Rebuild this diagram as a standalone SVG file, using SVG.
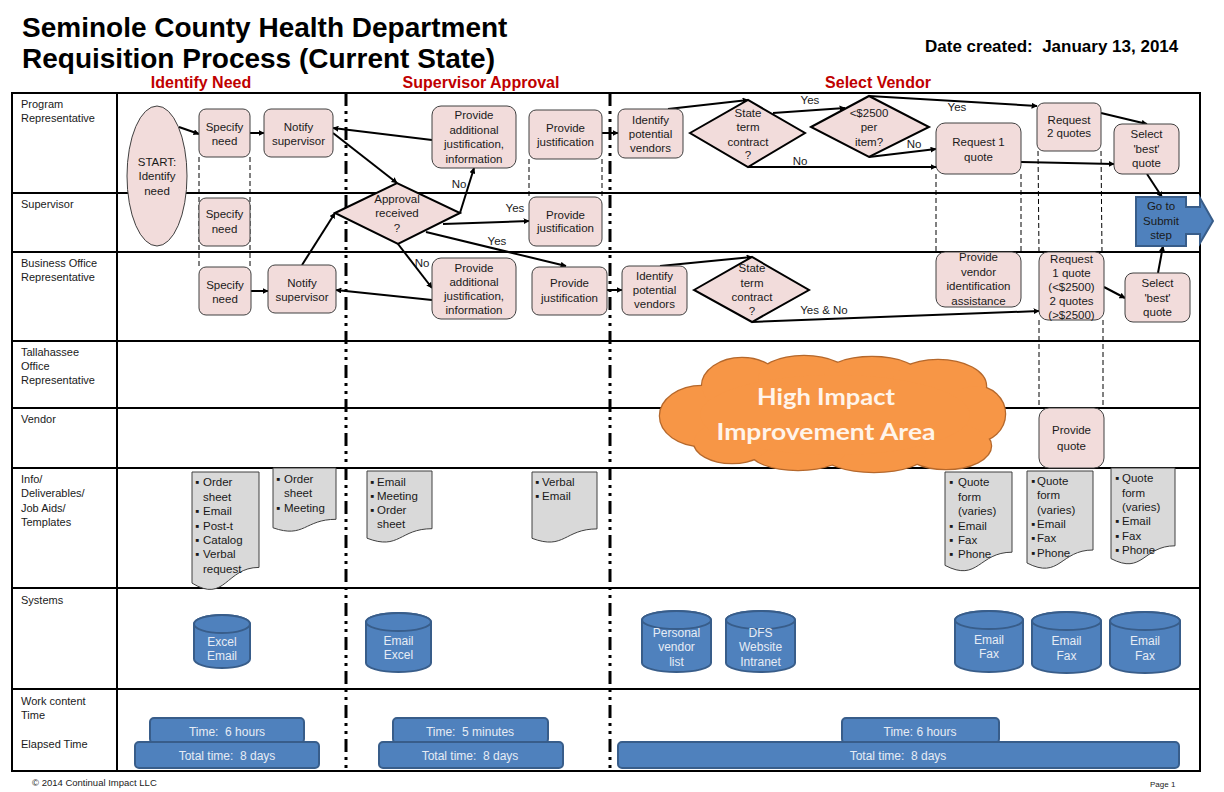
<svg xmlns="http://www.w3.org/2000/svg" width="1224" height="792" viewBox="0 0 1224 792">
<defs>
<marker id="ah" viewBox="0 0 10 10" refX="9" refY="5" markerWidth="6" markerHeight="6" markerUnits="userSpaceOnUse" orient="auto"><path d="M0,0 L10,5 L0,10 z" fill="#000"/></marker>
<style>
.f{font-family:"Liberation Sans",Arial,sans-serif}
.lane{stroke:#000;stroke-width:2;fill:none}
.phase{stroke:#000;stroke-width:3;stroke-dasharray:13 5 3 5 3 5;fill:none}
.dash{stroke:#000;stroke-width:1;stroke-dasharray:5 3;fill:none}
.box{fill:#F2DCDB;stroke:#404040;stroke-width:1}
.dia{fill:#F2DCDB;stroke:#000;stroke-width:2}
.doc{fill:#D9D9D9;stroke:#404040;stroke-width:1}
.cyl{fill:#4F81BD;stroke:#385D8A;stroke-width:2}
.con{stroke:#000;stroke-width:2;fill:none;marker-end:url(#ah)}
.t{font-family:"Liberation Sans",Arial,sans-serif;font-size:11.5px;fill:#1a1a1a;text-anchor:middle}
.d{font-family:"Liberation Sans",Arial,sans-serif;font-size:11.5px;fill:#1a1a1a}
.lbl{font-family:"Liberation Sans",Arial,sans-serif;font-size:11px;fill:#1a1a1a}
.w{font-family:"Liberation Sans",Arial,sans-serif;font-size:12px;fill:#E6ECF5;text-anchor:middle}
.ph{font-family:"Liberation Sans",Arial,sans-serif;font-size:16px;font-weight:bold;fill:#C00000;text-anchor:middle}
.cl{fill:#F79646;stroke:#B5682C;stroke-width:2.5}
.cf{fill:#F79646;stroke:none}
</style>
</defs>
<rect width="1224" height="792" fill="#fff"/>

<g id="title">
<text class="f" x="22" y="37" font-size="28" font-weight="bold" fill="#000">Seminole County Health Department</text>
<text class="f" x="22" y="68" font-size="28" font-weight="bold" fill="#000">Requisition Process (Current State)</text>
<text class="f" x="925" y="52" font-size="17" font-weight="bold" fill="#000" xml:space="preserve">Date created:  January 13, 2014</text>
<text class="ph" x="201" y="88">Identify Need</text>
<text class="ph" x="481" y="88">Supervisor Approval</text>
<text class="ph" x="878" y="88">Select Vendor</text>
</g>

<g id="lanes">
<rect class="lane" x="12" y="93" width="1188" height="678" stroke-width="2.5"/>
<line class="lane" x1="117" y1="93" x2="117" y2="771"/>
<line class="lane" x1="12" y1="193" x2="1200" y2="193"/>
<line class="lane" x1="12" y1="252" x2="1200" y2="252"/>
<line class="lane" x1="12" y1="341" x2="1200" y2="341"/>
<line class="lane" x1="12" y1="408" x2="1200" y2="408"/>
<line class="lane" x1="12" y1="468" x2="1200" y2="468"/>
<line class="lane" x1="12" y1="588" x2="1200" y2="588"/>
<line class="lane" x1="12" y1="689" x2="1200" y2="689"/>
<text class="lbl" x="21" y="108">Program</text>
<text class="lbl" x="21" y="122">Representative</text>
<text class="lbl" x="21" y="208">Supervisor</text>
<text class="lbl" x="21" y="267">Business Office</text>
<text class="lbl" x="21" y="281">Representative</text>
<text class="lbl" x="21" y="356">Tallahassee</text>
<text class="lbl" x="21" y="370">Office</text>
<text class="lbl" x="21" y="384">Representative</text>
<text class="lbl" x="21" y="423">Vendor</text>
<text class="lbl" x="21" y="483">Info/</text>
<text class="lbl" x="21" y="497">Deliverables/</text>
<text class="lbl" x="21" y="512">Job Aids/</text>
<text class="lbl" x="21" y="526">Templates</text>
<text class="lbl" x="21" y="604">Systems</text>
<text class="lbl" x="21" y="705">Work content</text>
<text class="lbl" x="21" y="719">Time</text>
<text class="lbl" x="21" y="748">Elapsed Time</text>
<text class="f" x="32" y="786" font-size="9.5" fill="#1a1a1a">© 2014 Continual Impact LLC</text>
<text class="f" x="1150" y="787" font-size="8" fill="#1a1a1a">Page 1</text>
</g>

<g id="phase-separators">
<line class="phase" x1="346" y1="93" x2="346" y2="771"/>
<line class="phase" x1="610" y1="93" x2="610" y2="771"/>
</g>

<g id="dashed-links">
<line class="dash" x1="199" y1="157" x2="199" y2="267"/>
<line class="dash" x1="250" y1="157" x2="250" y2="267"/>
<line class="dash" x1="529" y1="159" x2="529" y2="197"/>
<line class="dash" x1="602" y1="159" x2="602" y2="197"/>
<line class="dash" x1="936" y1="174" x2="936" y2="252"/>
<line class="dash" x1="1021" y1="174" x2="1021" y2="252"/>
<line class="dash" x1="1038" y1="151" x2="1039" y2="252"/>
<line class="dash" x1="1101" y1="151" x2="1102" y2="252"/>
<line class="dash" x1="1039" y1="320" x2="1039" y2="408"/>
<line class="dash" x1="1103" y1="320" x2="1103" y2="408"/>
</g>

<g id="connectors">
<line class="con" x1="179" y1="127" x2="199" y2="134"/>
<line class="con" x1="250" y1="133" x2="264" y2="133"/>
<line class="con" x1="333" y1="133" x2="397" y2="183"/>
<line class="con" x1="432" y1="140" x2="333" y2="128"/>
<line class="con" x1="460" y1="213" x2="474" y2="168"/>
<line class="con" x1="443" y1="224" x2="529" y2="221"/>
<line class="con" x1="426" y1="232" x2="566" y2="266"/>
<line class="con" x1="398" y1="244" x2="432" y2="288"/>
<line class="con" x1="302" y1="265" x2="335" y2="213"/>
<line class="con" x1="251" y1="291" x2="268" y2="291"/>
<line class="con" x1="432" y1="300" x2="336" y2="290"/>
<line class="con" x1="602" y1="133" x2="618" y2="133"/>
<line class="con" x1="607" y1="290" x2="622" y2="290"/>
<line class="con" x1="668" y1="109" x2="748" y2="100"/>
<line class="con" x1="660" y1="266" x2="752" y2="257"/>
<line class="con" x1="773" y1="113" x2="845" y2="108"/>
<line class="con" x1="748" y1="167" x2="936" y2="167"/>
<line class="con" x1="869" y1="157" x2="936" y2="149"/>
<line class="con" x1="869" y1="96" x2="1037" y2="106"/>
<line class="con" x1="1101" y1="113" x2="1147" y2="124"/>
<line class="con" x1="1021" y1="162" x2="1114" y2="164"/>
<line class="con" x1="1147" y1="174" x2="1162" y2="197"/>
<line class="con" x1="1158" y1="273" x2="1163" y2="246"/>
<line class="con" x1="1104" y1="287" x2="1125" y2="298"/>
<line class="con" x1="752" y1="322" x2="1039" y2="311"/>
<text class="t" x="459" y="188">No</text>
<text class="t" x="515" y="212">Yes</text>
<text class="t" x="497" y="245">Yes</text>
<text class="t" x="422" y="267">No</text>
<text class="t" x="810" y="104">Yes</text>
<text class="t" x="800" y="165">No</text>
<text class="t" x="914" y="148">No</text>
<text class="t" x="957" y="111">Yes</text>
<text class="t" x="824" y="314">Yes &amp; No</text>
</g>

<g id="start">
<ellipse class="box" cx="157" cy="176" rx="30" ry="70"/>
<text class="t" x="157" y="166">START:</text>
<text class="t" x="157" y="180">Identify</text>
<text class="t" x="157" y="195">need</text>
</g>
<g id="specify-need-p"><rect class="box" x="199" y="109" width="51" height="48" rx="7"/><text class="t" x="224.5" y="131">Specify</text><text class="t" x="224.5" y="145">need</text></g>
<g id="notify-supervisor-p"><rect class="box" x="264" y="109" width="69" height="48" rx="7"/><text class="t" x="298.5" y="131">Notify</text><text class="t" x="298.5" y="145">supervisor</text></g>
<g id="specify-need-s"><rect class="box" x="199" y="198" width="51" height="48" rx="7"/><text class="t" x="224.5" y="218">Specify</text><text class="t" x="224.5" y="233">need</text></g>
<g id="specify-need-b"><rect class="box" x="199" y="267" width="52" height="48" rx="7"/><text class="t" x="225" y="289">Specify</text><text class="t" x="225" y="303">need</text></g>
<g id="notify-supervisor-b"><rect class="box" x="268" y="265" width="68" height="48" rx="7"/><text class="t" x="302" y="287">Notify</text><text class="t" x="302" y="301">supervisor</text></g>

<g id="provide-additional-p"><rect class="box" x="432" y="106" width="84" height="62" rx="9"/><text class="t" x="474" y="119">Provide</text><text class="t" x="474" y="134">additional</text><text class="t" x="474" y="148">justification,</text><text class="t" x="474" y="163">information</text></g>
<g id="provide-justification-p"><rect class="box" x="529" y="110" width="73" height="49" rx="7"/><text class="t" x="565.5" y="132">Provide</text><text class="t" x="565.5" y="146">justification</text></g>
<g id="approval-received"><polygon class="dia" points="335,213 397,183 460,213 398,244"/><text class="t" x="397" y="203">Approval</text><text class="t" x="397" y="217">received</text><text class="t" x="397" y="232">?</text></g>
<g id="provide-justification-s"><rect class="box" x="529" y="197" width="73" height="49" rx="7"/><text class="t" x="565.5" y="219">Provide</text><text class="t" x="565.5" y="232">justification</text></g>
<g id="provide-additional-b"><rect class="box" x="432" y="258" width="84" height="61" rx="9"/><text class="t" x="474" y="272">Provide</text><text class="t" x="474" y="286">additional</text><text class="t" x="474" y="300">justification,</text><text class="t" x="474" y="314">information</text></g>
<g id="provide-justification-b"><rect class="box" x="532" y="267" width="75" height="48" rx="7"/><text class="t" x="569.5" y="287">Provide</text><text class="t" x="569.5" y="302">justification</text></g>

<g id="identify-vendors-p"><rect class="box" x="618" y="109" width="65" height="49" rx="7"/><text class="t" x="650.5" y="124">Identify</text><text class="t" x="650.5" y="138">potential</text><text class="t" x="650.5" y="152">vendors</text></g>
<g id="state-term-p"><polygon class="dia" points="690,133 748,100 805,133 748,167"/><text class="t" x="748" y="117">State</text><text class="t" x="748" y="131">term</text><text class="t" x="748" y="146">contract</text><text class="t" x="748" y="159">?</text></g>
<g id="under-2500"><polygon class="dia" points="811,127 869,96 929,127 869,157"/><text class="t" x="869" y="117">&lt;$2500</text><text class="t" x="869" y="131">per</text><text class="t" x="869" y="146">item?</text></g>
<g id="request-1-quote-p"><rect class="box" x="936" y="123" width="85" height="51" rx="9"/><text class="t" x="978.5" y="146">Request 1</text><text class="t" x="978.5" y="161">quote</text></g>
<g id="request-2-quotes"><rect class="box" x="1037" y="103" width="64" height="48" rx="7"/><text class="t" x="1069" y="124">Request</text><text class="t" x="1069" y="137">2 quotes</text></g>
<g id="select-best-p"><rect class="box" x="1114" y="124" width="65" height="50" rx="8"/><text class="t" x="1146.5" y="138">Select</text><text class="t" x="1146.5" y="153">'best'</text><text class="t" x="1146.5" y="167">quote</text></g>
<g id="go-to-submit"><polygon points="1136,197 1186,197 1186,207 1200,207 1200,198 1213,221 1200,243 1200,234 1186,234 1186,246 1136,246" fill="#4F81BD" stroke="#385D8A" stroke-width="2"/><text class="t" x="1161" y="210" font-size="10">Go to</text><text class="t" x="1161" y="225" font-size="10">Submit</text><text class="t" x="1161" y="239" font-size="10">step</text></g>
<g id="identify-vendors-b"><rect class="box" x="622" y="266" width="65" height="49" rx="7"/><text class="t" x="654.5" y="280">Identify</text><text class="t" x="654.5" y="294">potential</text><text class="t" x="654.5" y="308">vendors</text></g>
<g id="state-term-b"><polygon class="dia" points="694,290 752,257 809,290 752,322"/><text class="t" x="752" y="272">State</text><text class="t" x="752" y="287">term</text><text class="t" x="752" y="301">contract</text><text class="t" x="752" y="315">?</text></g>
<g id="vendor-id-assistance"><rect class="box" x="936" y="252" width="85" height="55" rx="9"/><text class="t" x="978.5" y="261">Provide</text><text class="t" x="978.5" y="276">vendor</text><text class="t" x="978.5" y="290">identification</text><text class="t" x="978.5" y="305">assistance</text></g>
<g id="request-quotes-b"><rect class="box" x="1039" y="252" width="65" height="68" rx="9"/><text class="t" x="1071.5" y="263">Request</text><text class="t" x="1071.5" y="277">1 quote</text><text class="t" x="1071.5" y="291">(&lt;$2500)</text><text class="t" x="1071.5" y="305">2 quotes</text><text class="t" x="1071.5" y="319">(&gt;$2500)</text></g>
<g id="select-best-b"><rect class="box" x="1125" y="273" width="65" height="49" rx="8"/><text class="t" x="1157.5" y="287">Select</text><text class="t" x="1157.5" y="302">'best'</text><text class="t" x="1157.5" y="316">quote</text></g>

<g id="high-impact-cloud">
<ellipse class="cl" cx="702" cy="416" rx="42" ry="30"/>
<ellipse class="cl" cx="742" cy="386" rx="40" ry="28"/>
<ellipse class="cl" cx="804" cy="378" rx="46" ry="22"/>
<ellipse class="cl" cx="872" cy="377" rx="48" ry="20"/>
<ellipse class="cl" cx="938" cy="386" rx="48" ry="26"/>
<ellipse class="cl" cx="975" cy="414" rx="30" ry="28"/>
<ellipse class="cl" cx="946" cy="446" rx="45" ry="23"/>
<ellipse class="cl" cx="874" cy="453" rx="52" ry="19"/>
<ellipse class="cl" cx="798" cy="451" rx="48" ry="19"/>
<ellipse class="cl" cx="732" cy="442" rx="38" ry="21"/>
<ellipse class="cf" cx="702" cy="416" rx="42" ry="30"/>
<ellipse class="cf" cx="742" cy="386" rx="40" ry="28"/>
<ellipse class="cf" cx="804" cy="378" rx="46" ry="22"/>
<ellipse class="cf" cx="872" cy="377" rx="48" ry="20"/>
<ellipse class="cf" cx="938" cy="386" rx="48" ry="26"/>
<ellipse class="cf" cx="975" cy="414" rx="30" ry="28"/>
<ellipse class="cf" cx="946" cy="446" rx="45" ry="23"/>
<ellipse class="cf" cx="874" cy="453" rx="52" ry="19"/>
<ellipse class="cf" cx="798" cy="451" rx="48" ry="19"/>
<ellipse class="cf" cx="732" cy="442" rx="38" ry="21"/>
<ellipse class="cf" cx="835" cy="415" rx="135" ry="40"/>
<text x="826" y="405" font-family="Lato,'Open Sans',sans-serif" font-size="23" font-weight="bold" fill="#FFF4EA" text-anchor="middle" textLength="138" lengthAdjust="spacingAndGlyphs">High Impact</text>
<text x="826" y="440" font-family="Lato,'Open Sans',sans-serif" font-size="23" font-weight="bold" fill="#FFF4EA" text-anchor="middle" textLength="219" lengthAdjust="spacingAndGlyphs">Improvement Area</text>
</g>

<g id="provide-quote"><rect class="box" x="1039" y="408" width="65" height="60" rx="10"/><text class="t" x="1071.5" y="434">Provide</text><text class="t" x="1071.5" y="450">quote</text></g>

<g id="doc-identify-1">
<path class="doc" d="M192,472 h67 v95.4 C225.5,567.4 225.5,603.7 192,583.1 Z"/>
<text class="d"><tspan x="195" y="486">▪</tspan><tspan x="203" y="486">Order</tspan><tspan x="203" y="501">sheet</tspan><tspan x="195" y="515">▪</tspan><tspan x="203" y="515">Email</tspan><tspan x="195" y="530">▪</tspan><tspan x="203" y="530">Post-t</tspan><tspan x="195" y="544">▪</tspan><tspan x="203" y="544">Catalog</tspan><tspan x="195" y="558">▪</tspan><tspan x="203" y="558">Verbal</tspan><tspan x="203" y="573">request</tspan></text>
</g>
<g id="doc-identify-2">
<path class="doc" d="M273,468 h63 v51.3 C304.5,519.3 304.5,538.8 273,527.8 Z"/>
<text class="d"><tspan x="276" y="483">▪</tspan><tspan x="284" y="483">Order</tspan><tspan x="284" y="497">sheet</tspan><tspan x="276" y="512">▪</tspan><tspan x="284" y="512">Meeting</tspan></text>
</g>
<g id="doc-approval-1">
<path class="doc" d="M367,471 h65 v57.7 C399.5,528.7 399.5,550.7 367,538.2 Z"/>
<text class="d"><tspan x="370" y="486">▪</tspan><tspan x="377" y="486">Email</tspan><tspan x="370" y="500">▪</tspan><tspan x="377" y="500">Meeting</tspan><tspan x="370" y="514">▪</tspan><tspan x="377" y="514">Order</tspan><tspan x="377" y="528">sheet</tspan></text>
</g>
<g id="doc-approval-2">
<path class="doc" d="M532,472 h65 v56.9 C564.5,528.9 564.5,550.6 532,538.3 Z"/>
<text class="d"><tspan x="535" y="486">▪</tspan><tspan x="542" y="486">Verbal</tspan><tspan x="535" y="500">▪</tspan><tspan x="542" y="500">Email</tspan></text>
</g>
<g id="doc-vendor-1">
<path class="doc" d="M945,472 h67 v80.2 C978.5,552.2 978.5,582.7 945,565.4 Z"/>
<text class="d"><tspan x="949" y="486">▪</tspan><tspan x="958" y="486">Quote</tspan><tspan x="958" y="501">form</tspan><tspan x="958" y="515">(varies)</tspan><tspan x="949" y="530">▪</tspan><tspan x="958" y="530">Email</tspan><tspan x="949" y="544">▪</tspan><tspan x="958" y="544">Fax</tspan><tspan x="949" y="558">▪</tspan><tspan x="958" y="558">Phone</tspan></text>
</g>
<g id="doc-vendor-2">
<path class="doc" d="M1027,471 h66 v79 C1060,550 1060,580 1027,563 Z"/>
<text class="d"><tspan x="1031" y="485">▪</tspan><tspan x="1037" y="485">Quote</tspan><tspan x="1037" y="499">form</tspan><tspan x="1037" y="514">(varies)</tspan><tspan x="1031" y="528">▪</tspan><tspan x="1037" y="528">Email</tspan><tspan x="1031" y="542">▪</tspan><tspan x="1037" y="542">Fax</tspan><tspan x="1031" y="557">▪</tspan><tspan x="1037" y="557">Phone</tspan></text>
</g>
<g id="doc-vendor-3">
<path class="doc" d="M1111,468 h64 v77.8 C1143,545.8 1143,575.4 1111,558.6 Z"/>
<text class="d"><tspan x="1115" y="482">▪</tspan><tspan x="1122" y="482">Quote</tspan><tspan x="1122" y="497">form</tspan><tspan x="1122" y="511">(varies)</tspan><tspan x="1115" y="525">▪</tspan><tspan x="1122" y="525">Email</tspan><tspan x="1115" y="540">▪</tspan><tspan x="1122" y="540">Fax</tspan><tspan x="1115" y="554">▪</tspan><tspan x="1122" y="554">Phone</tspan></text>
</g>

<g id="sys-excel-email"><path class="cyl" d="M194,624 v35 a28,9 0 0 0 56,0 v-35 a28,9 0 0 0 -56,0 Z"/><ellipse class="cyl" cx="222" cy="624" rx="28" ry="9"/><text class="w" x="222" y="646">Excel</text><text class="w" x="222" y="660">Email</text></g>
<g id="sys-email-excel"><path class="cyl" d="M366,622 v41 a32.5,9 0 0 0 65,0 v-41 a32.5,9 0 0 0 -65,0 Z"/><ellipse class="cyl" cx="398.5" cy="622" rx="32.5" ry="9"/><text class="w" x="398.5" y="645">Email</text><text class="w" x="398.5" y="659">Excel</text></g>
<g id="sys-personal-list"><path class="cyl" d="M642,620 v43 a34.5,9 0 0 0 69,0 v-43 a34.5,9 0 0 0 -69,0 Z"/><ellipse class="cyl" cx="676.5" cy="620" rx="34.5" ry="9"/><text class="w" x="676.5" y="637">Personal</text><text class="w" x="676.5" y="651">vendor</text><text class="w" x="676.5" y="666">list</text></g>
<g id="sys-dfs"><path class="cyl" d="M726,620 v43 a34.5,9 0 0 0 69,0 v-43 a34.5,9 0 0 0 -69,0 Z"/><ellipse class="cyl" cx="760.5" cy="620" rx="34.5" ry="9"/><text class="w" x="760.5" y="637">DFS</text><text class="w" x="760.5" y="651">Website</text><text class="w" x="760.5" y="666">Intranet</text></g>
<g id="sys-email-fax-1"><path class="cyl" d="M955,620 v43 a34,9 0 0 0 68,0 v-43 a34,9 0 0 0 -68,0 Z"/><ellipse class="cyl" cx="989" cy="620" rx="34" ry="9"/><text class="w" x="989" y="644">Email</text><text class="w" x="989" y="658">Fax</text></g>
<g id="sys-email-fax-2"><path class="cyl" d="M1032,621 v43 a34.5,9 0 0 0 69,0 v-43 a34.5,9 0 0 0 -69,0 Z"/><ellipse class="cyl" cx="1066.5" cy="621" rx="34.5" ry="9"/><text class="w" x="1066.5" y="645">Email</text><text class="w" x="1066.5" y="660">Fax</text></g>
<g id="sys-email-fax-3"><path class="cyl" d="M1110,621 v43 a35,9 0 0 0 70,0 v-43 a35,9 0 0 0 -70,0 Z"/><ellipse class="cyl" cx="1145" cy="621" rx="35" ry="9"/><text class="w" x="1145" y="645">Email</text><text class="w" x="1145" y="660">Fax</text></g>

<g id="time-identify">
<rect class="cyl" x="150" y="718" width="154" height="25" rx="4"/>
<rect class="cyl" x="135" y="742" width="184" height="26" rx="4"/>
<text class="w" x="227" y="736" xml:space="preserve">Time:  6 hours</text>
<text class="w" x="227" y="760" xml:space="preserve">Total time:  8 days</text>
</g>
<g id="time-approval">
<rect class="cyl" x="393" y="718" width="155" height="25" rx="4"/>
<rect class="cyl" x="379" y="742" width="184" height="26" rx="4"/>
<text class="w" x="470" y="736" xml:space="preserve">Time:  5 minutes</text>
<text class="w" x="470" y="760" xml:space="preserve">Total time:  8 days</text>
</g>
<g id="time-vendor">
<rect class="cyl" x="842" y="718" width="157" height="25" rx="4"/>
<rect class="cyl" x="618" y="742" width="561" height="26" rx="4"/>
<text class="w" x="920" y="736">Time: 6 hours</text>
<text class="w" x="898" y="760" xml:space="preserve">Total time:  8 days</text>
</g>
</svg>
